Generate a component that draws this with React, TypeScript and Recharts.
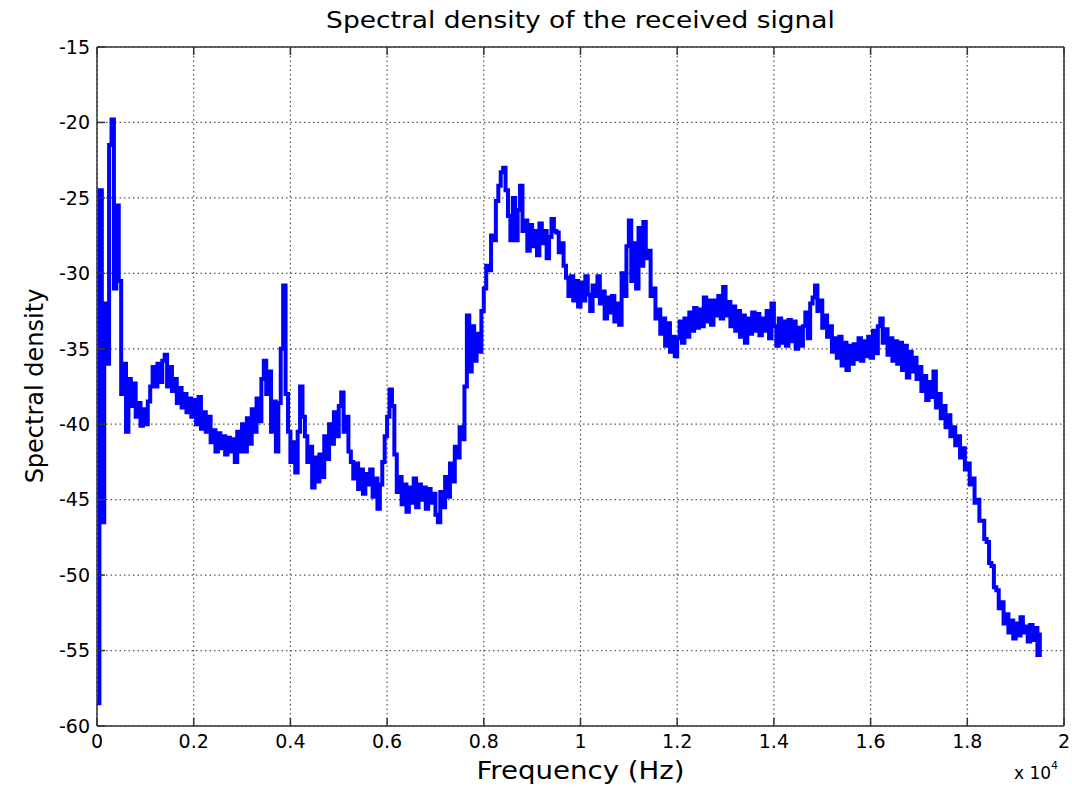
import React from 'react';
import { LineChart, Line, XAxis, YAxis, CartesianGrid } from 'recharts';

// frequency axis is in units of 1e4 Hz, samples every 0.005
const freqStep = 0.005;

const densityLow = [
  -58.5, -24.5, -46.5, -32, -36, -21.5, -19.8, -31, -25.5, -30.5,
  -38, -36, -40.5, -37, -38.8, -37.3, -39.5, -38.6, -40.1, -39,
  -40, -38.5, -37.5, -36.2, -37.5, -36, -37.2, -35.8, -35.4, -37.5,
  -36.2, -37.8, -37, -38.6, -37.6, -38.9, -38, -39.2, -38.3, -39.5,
  -38.4, -40, -38.2, -40.3, -39.2, -40.5, -39.5, -41.2, -40.4, -41.8,
  -40.6, -41.6, -40.8, -42, -40.9, -41.8, -41, -42.5, -40.5, -41.8,
  -40, -41.8, -39.6, -41.3, -39, -40.5, -38.3, -39.8, -37, -35.8,
  -38, -36.5, -40.5, -38.5, -41.8, -38.6, -35, -30.8, -38, -40.5,
  -42.5, -41.2, -43.2, -40.5, -37.5, -39.5, -40.8, -42.5, -41.5, -44.2,
  -42.2, -43.8, -42, -43.5, -40.8, -42.3, -40, -41.3, -39.2, -40.8,
];

const densityRise = [
  -38.8, -37.9, -40.5, -39.5, -41.8, -42.5, -43.6, -42.6, -44.3, -43,
  -44.6, -43.3, -44, -43, -44.8, -43.6, -45.6, -44, -42.5, -40.8,
  -39.5, -37.7, -38.8, -42, -44.5, -43.5, -45.3, -44, -45.8, -44.2,
  -45.2, -43.6, -45.5, -44, -45, -44.2, -45.6, -44.3, -45.2, -44.6,
  -46, -46.5, -44.5, -45.5, -43.5, -44.8, -42.6, -43.8, -41.5, -42.2,
  -40.2, -41, -37.5, -32.8, -36.5, -33.5, -35.8, -34, -35.2, -32.5,
  -31, -29.5, -29.8, -27.5, -27.8, -25.2, -24.2, -23.3, -23, -24.5,
  -26.2, -27.8, -25, -27.8, -25.8, -24.2, -27.2, -26.5, -28.5, -26.8,
  -28.2, -27.2, -28.8, -26.7, -28, -27.2, -29, -27.6, -26.4, -27.2,
  -27.3, -28.6, -28, -29.5, -30.3, -31.5, -30.2, -31.8, -30.5, -32.2,
];

const densityPlateau = [
  -30.6, -31.8, -30.2, -31.4, -32.5, -30.8, -31.5, -30.2, -32, -31.2,
  -33, -31.6, -32.6, -31.5, -33.2, -32, -33.4, -30, -31.5, -28.2,
  -26.5, -30.5, -28, -31, -27, -29.5, -26.6, -29, -28.5, -31.5,
  -31, -33, -32.4, -34, -33, -34.8, -33.3, -35.2, -34.2, -35.5,
  -34.3, -33.2, -34.6, -33, -34.2, -32.6, -33.8, -32.3, -33.6, -32.4,
  -33.5, -31.6, -33.2, -31.8, -33.4, -31.8, -32.8, -31.5, -33, -30.9,
  -32.8, -31.9, -33.5, -32.2, -33.8, -32.5, -34.2, -32.8, -34.6, -33,
  -34, -32.6, -33.8, -32.7, -34.1, -33, -33.8, -32.5, -34.3, -32,
  -33.5, -34.8, -33, -34.6, -33.2, -34.8, -33.1, -34.5, -33.2, -35,
  -33.6, -34.8, -33.5, -32.6, -34.3, -32, -31.6, -30.8, -32.5, -31.8,
];

const densityFall = [
  -33.6, -32.8, -34.2, -33.5, -35.2, -34.3, -35.6, -34.2, -36.1, -34.6,
  -36.4, -34.8, -36, -34.7, -35.7, -34.3, -35.8, -34.5, -35.5, -34.2,
  -35.6, -33.8, -35.3, -33.5, -33, -34.6, -33.7, -35.4, -34.3, -35.8,
  -34.5, -36, -34.6, -36.4, -34.8, -36.9, -35.2, -36.5, -35.6, -37,
  -36.2, -37.8, -36.8, -38.4, -37.2, -38.2, -36.5, -38.9, -38, -39.6,
  -38.8, -40.2, -39.4, -40.8, -40.2, -41.4, -40.8, -42.2, -41.6, -43,
  -42.6, -44, -43.6, -45.2, -45, -46.4, -46.4, -47.6, -47.8, -49.2,
  -49.4, -50.8, -51, -52.2, -51.8, -53.2, -52.6, -53.8, -53, -54.2,
  -53.2, -54, -52.8, -53.8, -53.4, -54.4, -53.3, -54.3, -53.5, -55.3,
  -53.8,
];

const xTicks = [0, 0.2, 0.4, 0.6, 0.8, 1, 1.2, 1.4, 1.6, 1.8, 2];
const yTicks = [-60, -55, -50, -45, -40, -35, -30, -25, -20, -15];

const density = [...densityLow, ...densityRise, ...densityPlateau, ...densityFall];
const data = density.map((v, i) => ({ freq: Number((i * freqStep).toFixed(3)), value: v }));

const FONT = "'DejaVu Sans', 'Liberation Sans', Arial, sans-serif";
const tickStyle = { fontSize: 19, fill: '#000', fontFamily: FONT };

export default function App() {
  return (
    <div style={{ position: 'absolute', left: 0, top: 0, width: 1072, height: 788, background: '#fff' }}>
      <LineChart width={1072} height={788} data={data} margin={{ top: 46, right: 7, bottom: 0, left: 0 }}>
        <CartesianGrid
          xAxisId="main" yAxisId="main" stroke="#555" strokeDasharray="1.5 3" strokeWidth={1.2}
          verticalPoints={undefined}
        />
        <XAxis
          xAxisId="main" dataKey="freq" type="number" domain={[0, 2]} ticks={xTicks}
          height={62} tickSize={-8} tickMargin={17} tick={tickStyle}
          stroke="#333" strokeWidth={1.5} interval={0}
        />
        <XAxis
          xAxisId="top" orientation="top" dataKey="freq" type="number" domain={[0, 2]} ticks={xTicks}
          height={1} tickSize={-8} tickFormatter={() => ''} stroke="#333" strokeWidth={1.5}
        />
        <YAxis
          yAxisId="main" type="number" domain={[-60, -15]} ticks={yTicks} width={97}
          tickSize={-8} tickMargin={15} tick={tickStyle} stroke="#333" strokeWidth={1.5} interval={0}
        />
        <YAxis
          yAxisId="right" orientation="right" type="number" domain={[-60, -15]} ticks={yTicks}
          width={1} tickSize={-8} tickFormatter={() => ''} stroke="#333" strokeWidth={1.5}
        />
        <Line
          xAxisId="main" yAxisId="main" type="stepAfter" dataKey="value"
          stroke="#0000ff" strokeWidth={4} dot={false} isAnimationActive={false}
        />
      </LineChart>

      <div style={{
        position: 'absolute', top: 5, left: 97, width: 967, textAlign: 'center',
        fontFamily: FONT, fontSize: 23, color: '#000', lineHeight: '30px',
        transform: 'scaleX(1.15)',
      }}>
        Spectral density of the received signal
      </div>
      <div style={{
        position: 'absolute', top: 756, left: 97, width: 967, textAlign: 'center',
        fontFamily: FONT, fontSize: 24, color: '#000', lineHeight: '30px',
        transform: 'scaleX(1.15)',
      }}>
        Frequency (Hz)
      </div>
      <div style={{
        position: 'absolute', left: 35, top: 386, transform: 'translate(-50%, -50%) rotate(-90deg)',
        whiteSpace: 'nowrap', fontFamily: FONT, fontSize: 24, color: '#000', lineHeight: '30px',
      }}>
        Spectral density
      </div>
      <div style={{
        position: 'absolute', left: 1014, top: 763, fontFamily: FONT, fontSize: 17,
        color: '#000', whiteSpace: 'nowrap',
      }}>
        x 10<sup style={{ fontSize: 11, verticalAlign: 'top', position: 'relative', top: -4 }}>4</sup>
      </div>
    </div>
  );
}
